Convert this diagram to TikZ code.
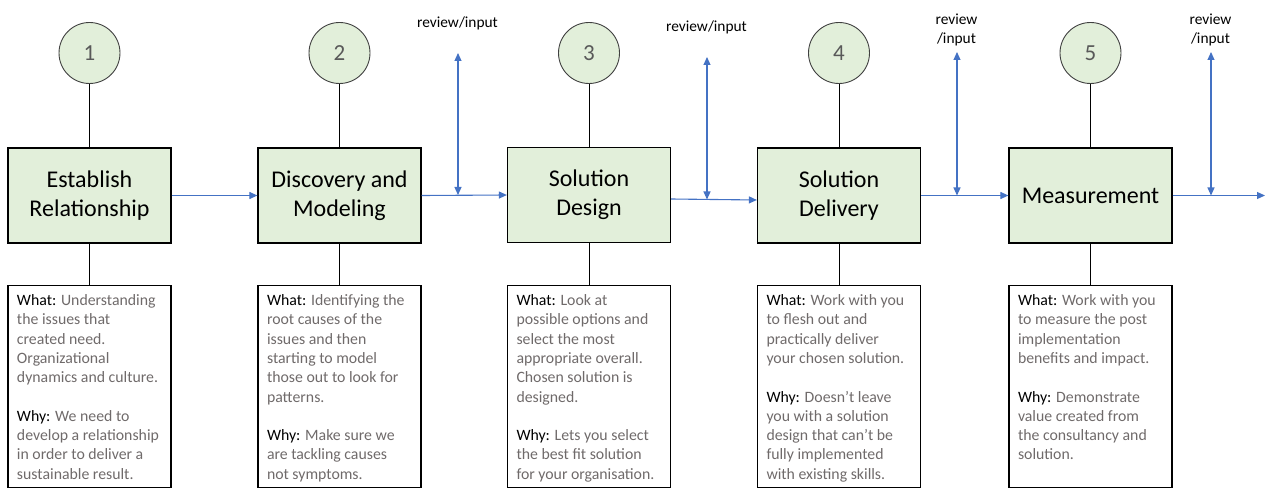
\documentclass[tikz,border=0pt]{standalone}
\usepackage{fontspec}
\setmainfont{Carlito}
\usepackage{tikz}
\usetikzlibrary{arrows.meta, positioning}

\definecolor{stagefill}{HTML}{E2EFDA}
\definecolor{flowblue}{HTML}{4472C4}
\definecolor{bodygrey}{HTML}{6F6A6A}
\definecolor{numgrey}{HTML}{595959}

\tikzset{
  stagebox/.style={draw=black, line width=1.2pt, fill=stagefill, minimum width=163pt,
    minimum height=95pt, inner sep=0pt, align=center,
    font=\fontsize{24}{29}\selectfont},
  stepnum/.style={circle, draw=black!75, line width=0.9pt, fill=stagefill, minimum size=61pt,
    inner sep=0pt, text=numgrey, font=\fontsize{23}{27}\selectfont},
  infobox/.style={draw=black, line width=1.2pt, anchor=north, inner sep=0pt,
    font=\fontsize{15.8}{19.3}\selectfont},
  flow/.style={flowblue, line width=1.1pt, -{Triangle[length=8pt,width=7pt]}},
  review/.style={flowblue, line width=1.1pt, {Triangle[length=8pt,width=7pt]}-{Triangle[length=8pt,width=7pt]}},
  reviewtext/.style={align=center, font=\fontsize{15.4}{19}\selectfont},
  link/.style={black, line width=1pt}
}

\newcommand{\whatwhy}[2]{\parbox[c][202pt][t]{163pt}{\vspace{9pt}\raggedright\leftskip=9pt
  \textcolor{black}{What:} \textcolor{bodygrey}{#1}\\[19.3pt]
  \textcolor{black}{Why:} \textcolor{bodygrey}{#2}}}

\begin{document}
\begin{tikzpicture}[x=1pt, y=-1pt]
  \useasboundingbox (0,0) rectangle (1270,500);

  % Stages with numbered circles
  \foreach \i/\x/\y/\name in {1/89.5/195.5/{Establish\\Relationship},
      2/339.5/195.5/{Discovery and\\Modeling},
      3/589/195/{Solution\\Design},
      4/839/195.5/{Solution\\Delivery},
      5/1090.5/195.5/{Measurement}} {
    \node[stagebox] (s\i) at (\x, \y) {\name};
    \node[stepnum] (n\i) at (\x, 53) {\i};
    \draw[link] (n\i) -- (s\i);
  }

  % What / Why boxes
  \node[infobox] (w1) at (89.5, 285) {\whatwhy{Understanding\\the issues that\\created need.\\Organizational\\dynamics and culture.}{We need to\\develop a relationship\\in order to deliver a\\sustainable result.}};
  \node[infobox] (w2) at (339.5, 285) {\whatwhy{Identifying the\\root causes of the\\issues and then\\starting to model\\those out to look for\\patterns.}{Make sure we\\are tackling causes\\not symptoms.}};
  \node[infobox] (w3) at (589, 285) {\whatwhy{Look at\\possible options and\\select the most\\appropriate overall.\\Chosen solution is\\designed.}{Lets you select\\the best fit solution\\for your organisation.}};
  \node[infobox] (w4) at (839, 285) {\whatwhy{Work with you\\to flesh out and\\practically deliver\\your chosen solution.}{Doesn’t leave\\you with a solution\\design that can’t be\\fully implemented\\with existing skills.}};
  \node[infobox] (w5) at (1090.5, 285) {\whatwhy{Work with you\\to measure the post\\implementation\\benefits and impact.}{Demonstrate\\value created from\\the consultancy and\\solution.}};

  \foreach \i in {1,...,5} {
    \draw[link] (s\i.south) -- (w\i.north);
  }

  % Flow between stages
  \coordinate (out) at (1265, 195.5);
  \draw[flow] (s1.east) -- (s2.west);
  \draw[flow] (s2.east) -- (s3.west);
  \draw[flow] ([yshift=-4pt]s3.east) -- ([yshift=-4.5pt]s4.west);
  \draw[flow] (s4.east) -- (s5.west);
  \draw[flow] (s5.east) -- (out);

  % Review / input arrows
  \foreach \j/\x/\y/\top/\ly/\txt in {2/458/195/53/23/{review/input},
      3/707/199.5/57/27/{review/input},
      4/957/195.5/52/30/{review\\/input},
      5/1211/195.5/52/30/{review\\/input}} {
    \coordinate (r\j) at (\x, \y);
    \coordinate (t\j) at (\x, \top);
    \draw[review] (t\j) -- (r\j);
    \node[reviewtext] (l\j) at (\x - 0.5, \ly) {\txt};
  }
\end{tikzpicture}
\end{document}
